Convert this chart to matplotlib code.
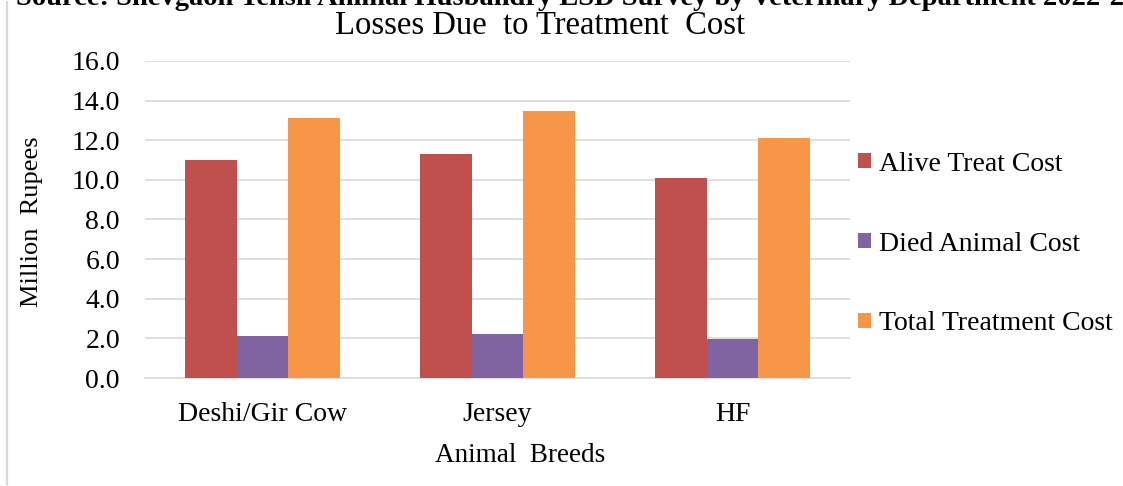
import matplotlib
matplotlib.use("Agg")
import matplotlib.pyplot as plt
from matplotlib.lines import Line2D
from matplotlib.patches import Patch
import numpy as np

# Data (million rupees)
breeds = ["Deshi/Gir Cow", "Jersey", "HF"]
alive_treat_cost = [11.0, 11.3, 10.1]
died_animal_cost = [2.1, 2.2, 1.95]
total_treatment_cost = [13.1, 13.5, 12.1]
series_names = ["Alive Treat Cost", "Died Animal Cost", "Total Treatment Cost"]
series_colors = ["#C0504D", "#8064A2", "#F79646"]
y_ticks = [0, 2, 4, 6, 8, 10, 12, 14, 16]

plt.rcParams["font.family"] = ["Liberation Serif", "DejaVu Serif"]

W, H = 1123, 486
fig = plt.figure(figsize=(W / 100, H / 100), dpi=100)
ax = fig.add_axes([145 / W, 1 - 378 / H, 705 / W, (378 - 61) / H])

x = np.arange(len(breeds))
width = 0.22
offsets = [-width, 0.0, width]
for vals, off, col, name in zip(
    [alive_treat_cost, died_animal_cost, total_treatment_cost],
    offsets, series_colors, series_names,
):
    ax.bar(x + off, vals, width=width, color=col, label=name, zorder=3)

ax.set_xlim(-0.5, len(breeds) - 0.5)
ax.set_ylim(0, 16)
ax.set_yticks(y_ticks)
ax.set_yticklabels([f"{v:.1f}" for v in y_ticks])
ax.set_xticks(x)
ax.set_xticklabels(breeds)
ax.tick_params(axis="both", length=0, labelsize=20, colors="#000000")
ax.tick_params(axis="y", pad=18)
ax.tick_params(axis="x", pad=17)

ax.grid(axis="y", color="#D9D9D9", linewidth=1.2, zorder=0)
for side in ["left", "right", "top"]:
    ax.spines[side].set_visible(False)
ax.spines["bottom"].set_color("#D9D9D9")
ax.spines["bottom"].set_linewidth(1.2)

# Axis titles
fig.text(32 / W, 1 - 222 / H, "Million  Rupees", rotation=90,
         ha="center", va="center", fontsize=19)
fig.text(520 / W, 1 - 456 / H, "Animal  Breeds",
         ha="center", va="center", fontsize=19.5)

# Chart title and source line
fig.text(540 / W, 1 - 26 / H, "Losses Due  to Treatment  Cost",
         ha="center", va="center", fontsize=23.5)
fig.text(16 / W, 1 - 5 / H,
         "Source: Shevgaon Tehsil Animal Husbandry LSD Survey by Veterinary Department 2022-23",
         ha="left", va="baseline", fontsize=20.5, fontweight="bold")

# Legend
handles = [Patch(facecolor=c, edgecolor="none") for c in series_colors]
fig.legend(handles, series_names, loc="center left",
           bbox_to_anchor=(858 / W, 1 - 244 / H), frameon=False,
           fontsize=20, labelspacing=1.97, handlelength=0.45,
           handleheight=0.45, handletextpad=0.3,
           borderpad=0, borderaxespad=0)

# Frame edge on the left
fig.add_artist(Line2D([7 / W, 7 / W], [1 - 484 / H, 1 - 2 / H],
                      transform=fig.transFigure, color="#D9D9D9", linewidth=1.6))

fig.savefig("out.png", dpi=100)
